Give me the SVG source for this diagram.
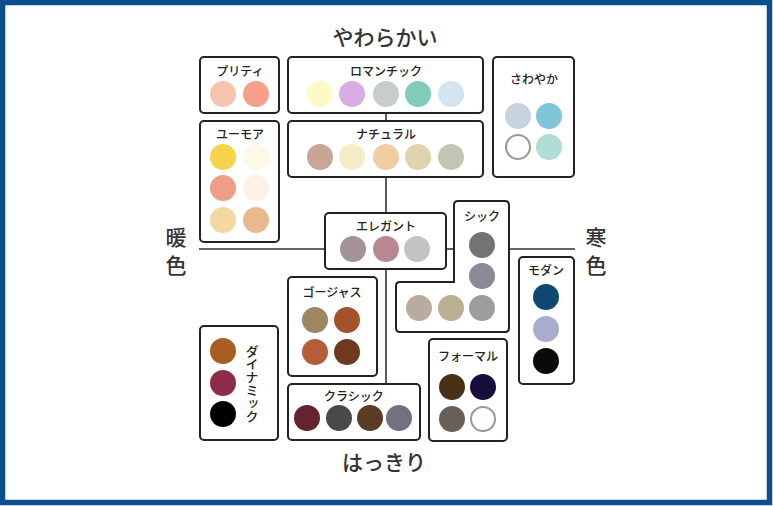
<svg xmlns="http://www.w3.org/2000/svg" width="773" height="506" viewBox="0 0 773 506">
<style>
.box{fill:#fff;stroke:#222;stroke-width:2}
.ln{stroke:#333;stroke-width:1.6;fill:none}
.lb{font-family:"Noto Sans CJK JP","Noto Sans",sans-serif;font-size:12px;font-weight:500;fill:#222;text-anchor:middle}
.ax{font-family:"Noto Sans CJK JP","Noto Sans",sans-serif;font-size:21px;font-weight:500;fill:#333;text-anchor:middle}
.wh{fill:#fdfdfb;stroke:#999;stroke-width:2}
</style>
<rect x="0" y="0" width="773" height="506" fill="#fff"/>
<rect x="2.5" y="2.5" width="767" height="500" fill="none" stroke="#0a4f8c" stroke-width="5.5"/>
<g id="axes">
<text class="ax" x="385" y="45">やわらかい</text>
<text class="ax" x="384" y="470">はっきり</text>
<text class="ax" x="176" y="245">暖</text>
<text class="ax" x="176" y="273">色</text>
<text class="ax" x="596" y="245">寒</text>
<text class="ax" x="596" y="273">色</text>
</g>
<g id="connectors">
<line class="ln" x1="386" y1="113" x2="386" y2="121"/>
<line class="ln" x1="386" y1="177" x2="386" y2="213"/>
<line class="ln" x1="386" y1="269" x2="386" y2="384"/>
<line class="ln" x1="199" y1="249" x2="325" y2="249"/>
<line class="ln" x1="446" y1="249" x2="454" y2="249"/>
<line class="ln" x1="509" y1="249" x2="575" y2="249"/>
</g>
<g id="pretty">
<rect class="box" x="200" y="57" width="79" height="56" rx="4"/>
<text class="lb" x="240" y="76">プリティ</text>
<circle cx="223" cy="94" r="13" fill="#f7c3af"/>
<circle cx="256" cy="94" r="13" fill="#f6a08c"/>
</g>
<g id="romantic">
<rect class="box" x="288" y="57" width="195" height="56" rx="4"/>
<text class="lb" x="386" y="76">ロマンチック</text>
<circle cx="320" cy="94" r="13" fill="#fcfbc6"/>
<circle cx="352" cy="94" r="13" fill="#d7ace3"/>
<circle cx="386" cy="94" r="13" fill="#c6cdca"/>
<circle cx="418" cy="94" r="13" fill="#7fccb8"/>
<circle cx="451" cy="94" r="13" fill="#d3e5f0"/>
</g>
<g id="sawayaka">
<rect class="box" x="493" y="57" width="81" height="120" rx="4"/>
<text class="lb" x="534" y="84">さわやか</text>
<circle cx="518" cy="116" r="13" fill="#c6d2df"/>
<circle cx="549" cy="116" r="13" fill="#7ec5da"/>
<circle cx="518" cy="147" r="12" class="wh"/>
<circle cx="549" cy="147" r="13" fill="#b2ddd6"/>
</g>
<g id="humor">
<rect class="box" x="200" y="121" width="79" height="121" rx="4"/>
<text class="lb" x="240" y="139">ユーモア</text>
<circle cx="223" cy="157" r="13" fill="#f6d449"/>
<circle cx="256" cy="157" r="13" fill="#fdf9e5"/>
<circle cx="223" cy="188" r="13" fill="#ef9e86"/>
<circle cx="256" cy="188" r="13" fill="#fdf0e7"/>
<circle cx="223" cy="220" r="13" fill="#f5d7a2"/>
<circle cx="256" cy="220" r="13" fill="#e8b98c"/>
</g>
<g id="natural">
<rect class="box" x="288" y="121" width="195" height="56" rx="4"/>
<text class="lb" x="386" y="139">ナチュラル</text>
<circle cx="320" cy="157" r="13" fill="#c8a596"/>
<circle cx="352" cy="157" r="13" fill="#f2edc6"/>
<circle cx="386" cy="157" r="13" fill="#f0cda0"/>
<circle cx="418" cy="157" r="13" fill="#ddd4ae"/>
<circle cx="451" cy="157" r="13" fill="#c4c4b3"/>
</g>
<g id="elegant">
<rect class="box" x="325" y="213" width="121" height="56" rx="4"/>
<text class="lb" x="386" y="231">エレガント</text>
<circle cx="353" cy="249" r="13" fill="#a3919b"/>
<circle cx="386" cy="249" r="13" fill="#b98790"/>
<circle cx="417" cy="249" r="13" fill="#c3c3c3"/>
</g>
<g id="chic">
<path class="box" d="M458,201 H505 Q509,201 509,205 V328 Q509,332 505,332 H400 Q396,332 396,328 V286 Q396,282 400,282 H454 V205 Q454,201 458,201 Z"/>
<text class="lb" x="482" y="221">シック</text>
<circle cx="482" cy="245" r="13" fill="#737373"/>
<circle cx="482" cy="276" r="13" fill="#8b8898"/>
<circle cx="419" cy="308" r="13" fill="#b9ac9f"/>
<circle cx="451" cy="308" r="13" fill="#b9af91"/>
<circle cx="482" cy="308" r="13" fill="#9e9c9c"/>
</g>
<g id="modern">
<rect class="box" x="519" y="257" width="55" height="127" rx="4"/>
<text class="lb" x="546" y="275">モダン</text>
<circle cx="546" cy="297" r="13" fill="#0e4770"/>
<circle cx="546" cy="329" r="13" fill="#a9adcb"/>
<circle cx="546" cy="361" r="13" fill="#0a0a0a"/>
</g>
<g id="gorgeous">
<rect class="box" x="288" y="277" width="89" height="99" rx="4"/>
<text class="lb" x="332" y="297">ゴージャス</text>
<circle cx="315" cy="320" r="13" fill="#9e8660"/>
<circle cx="347" cy="320" r="13" fill="#a35229"/>
<circle cx="315" cy="352" r="13" fill="#b25f38"/>
<circle cx="347" cy="352" r="13" fill="#6e3a1e"/>
</g>
<g id="dynamic">
<rect class="box" x="200" y="326" width="78" height="114" rx="4"/>
<circle cx="223" cy="351" r="13" fill="#a85e23"/>
<circle cx="223" cy="383" r="13" fill="#8e2c47"/>
<circle cx="223" cy="414" r="13" fill="#000"/>
<text class="lb" x="252" y="345" style="writing-mode:vertical-rl;text-anchor:start;font-size:13px">ダイナミック</text>
</g>
<g id="formal">
<rect class="box" x="429" y="339" width="78" height="102" rx="4"/>
<text class="lb" x="468" y="361">フォーマル</text>
<circle cx="452" cy="387" r="13" fill="#4a3017"/>
<circle cx="483" cy="387" r="13" fill="#170e3e"/>
<circle cx="452" cy="419" r="13" fill="#686059"/>
<circle cx="483" cy="419" r="12" class="wh"/>
</g>
<g id="classic">
<rect class="box" x="288" y="384" width="132" height="56" rx="4"/>
<text class="lb" x="354" y="401">クラシック</text>
<circle cx="307" cy="418" r="13" fill="#64242f"/>
<circle cx="339" cy="418" r="13" fill="#494949"/>
<circle cx="370" cy="418" r="13" fill="#5a3c24"/>
<circle cx="399" cy="418" r="13" fill="#737080"/>
</g>
</svg>
